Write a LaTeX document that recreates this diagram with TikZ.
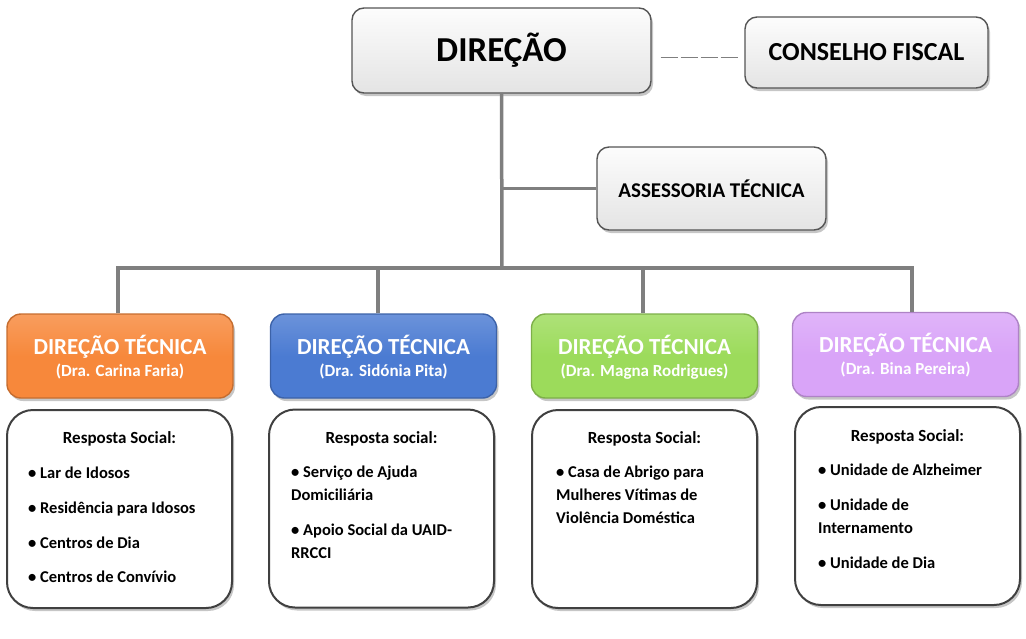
\documentclass[tikz,border=0pt]{standalone}
\usepackage{fontspec}
\setmainfont{Carlito}
\usetikzlibrary{shadows}

\definecolor{linegray}{HTML}{7F7F7F}
\definecolor{boxgray}{HTML}{E4E4E4}
\definecolor{boxborder}{HTML}{555555}
\definecolor{orangeT}{HTML}{F7883B}
\definecolor{blueT}{HTML}{4B7BD2}
\definecolor{greenT}{HTML}{9CDB5B}
\definecolor{purpleT}{HTML}{D9A4F8}

\begin{document}
\begin{tikzpicture}[x=1pt, y=-1pt,
    every node/.style={font=\bfseries},
    soft shadow/.style={drop shadow={shadow xshift=2pt, shadow yshift=-3pt, fill=black!50, opacity=.45}},
    top box/.style={draw=boxborder, line width=1.4pt, rounded corners=12pt, top color=white!90!boxgray, bottom color=boxgray, soft shadow},
    tech box/.style={line width=1.4pt, rounded corners=14pt, minimum width=226pt, minimum height=84pt, soft shadow},
    tech title/.style={anchor=base, inner sep=0pt, text=white, font=\bfseries\fontsize{23}{26}\selectfont},
    tech name/.style={anchor=base, inner sep=0pt, text=white, font=\bfseries\fontsize{17}{20}\selectfont},
    resp box/.style={draw=black!75, line width=2pt, fill=white, rounded corners=26pt, minimum width=225pt, minimum height=198pt, soft shadow},
    resp head/.style={anchor=base, inner sep=0pt, font=\bfseries\fontsize{17}{20}\selectfont},
    item/.style={anchor=base west, inner sep=0pt, font=\bfseries\fontsize{16.5}{20}\selectfont},
    conn/.style={draw=linegray, line width=3.5pt},
    dashline/.style={draw=linegray, line width=1pt, dash pattern=on 17pt off 3pt}]
  \useasboundingbox (0,0) rectangle (1026,638);

  % top level
  \node[top box, minimum width=299pt, minimum height=85pt, font=\bfseries\fontsize{35}{40}\selectfont] (dir) at (501.5,50.5) {DIREÇÃO};
  \node[top box, minimum width=243pt, minimum height=71pt, font=\bfseries\fontsize{26}{30}\selectfont] (cons) at (866.5,52.5) {CONSELHO FISCAL};
  \node[top box, minimum width=229pt, minimum height=83pt, font=\bfseries\fontsize{21}{25}\selectfont] (asse) at (711.5,188.5) {ASSESSORIA TÉCNICA};

  % technical directions
  \foreach \n/\x/\y/\c/\who in {1/120/356/orangeT/Carina Faria, 2/383.5/356/blueT/Sidónia Pita,
      3/644.5/356/greenT/Magna Rodrigues, 4/905.5/354.5/purpleT/Bina Pereira}
  {
    \node[tech box, top color=\c!82!white, bottom color=\c, middle color=\c, draw=\c!80!black] (t\n) at (\x,\y) {};
    \node[tech title] (t\n-a) at (\x,\y-2) {DIREÇÃO TÉCNICA};
    \node[tech name] (t\n-b) at (\x,\y+20) {(Dra. \who)};
  }

  % social responses
  \node[resp box] (r1) at (119.5,509) {};
  \node[resp box] (r2) at (381.5,508.5) {};
  \node[resp box] (r3) at (644.5,509) {};
  \node[resp box] (r4) at (907.5,506) {};
  \node[resp head] (h1) at (r1 |- 0,443) {Resposta Social:};
  \node[resp head] (h2) at (r2 |- 0,443) {Resposta social:};
  \node[resp head] (h3) at (r3 |- 0,443) {Resposta Social:};
  \node[resp head] (h4) at (r4 |- 0,441) {Resposta Social:};

  \foreach \y/\t [count=\k] in {478/• Lar de Idosos, 513/• Residência para Idosos, 548/• Centros de Dia, 582/• Centros de Convívio}
    \node[item] (i1-\k) at (28,\y) {\t};
  \foreach \y/\t [count=\k] in {477/• Serviço de Ajuda, 500/Domiciliária, 535/• Apoio Social da UAID-, 558/RRCCI}
    \node[item] (i2-\k) at (291,\y) {\t};
  \foreach \y/\t [count=\k] in {477/• Casa de Abrigo para, 500/Mulheres Vítimas de, 523/Violência Doméstica}
    \node[item] (i3-\k) at (556,\y) {\t};
  \foreach \y/\t [count=\k] in {475/• Unidade de Alzheimer, 510/• Unidade de, 533/Internamento, 568/• Unidade de Dia}
    \node[item] (i4-\k) at (818,\y) {\t};

  % connectors
  \coordinate (bus) at (502,268);
  \draw[conn] (dir.south) -- (bus);
  \draw[conn] (asse.west) -- (asse.west -| dir.south);
  \foreach \n/\dx in {1/-2,2/-5.5,3/-1.5,4/6.5}
    \draw[conn] ([xshift=\dx pt]t\n.north) |- (bus);
  \draw[dashline, shorten <=9pt, shorten >=6pt] ([yshift=-7pt]dir.east) -- ([yshift=-7pt]dir.east -| cons.west);
\end{tikzpicture}
\end{document}
